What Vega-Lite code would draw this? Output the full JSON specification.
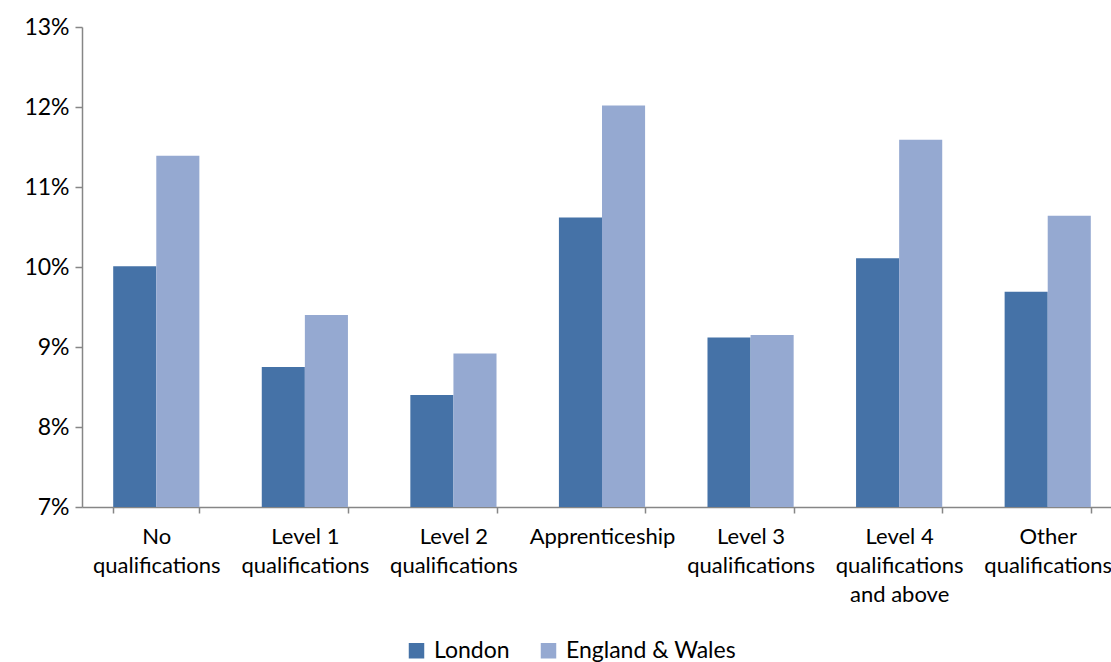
{
  "$schema": "https://vega.github.io/schema/vega-lite/v6.json",
  "width": 1040,
  "height": 480,
  "autosize": {"type": "none"},
  "padding": {"left": 82, "top": 27, "right": 0, "bottom": 155},
  "background": "white",
  "data": {
    "values": [
      {"category": "No|qualifications", "area": "London", "rate": 0.1001},
      {"category": "No|qualifications", "area": "England & Wales", "rate": 0.1139},
      {"category": "Level 1|qualifications", "area": "London", "rate": 0.0875},
      {"category": "Level 1|qualifications", "area": "England & Wales", "rate": 0.094},
      {"category": "Level 2|qualifications", "area": "London", "rate": 0.084},
      {"category": "Level 2|qualifications", "area": "England & Wales", "rate": 0.0892},
      {"category": "Apprenticeship", "area": "London", "rate": 0.1062},
      {"category": "Apprenticeship", "area": "England & Wales", "rate": 0.1202},
      {"category": "Level 3|qualifications", "area": "London", "rate": 0.0912},
      {"category": "Level 3|qualifications", "area": "England & Wales", "rate": 0.0915},
      {"category": "Level 4|qualifications|and above", "area": "London", "rate": 0.1011},
      {"category": "Level 4|qualifications|and above", "area": "England & Wales", "rate": 0.1159},
      {"category": "Other|qualifications", "area": "London", "rate": 0.0969},
      {"category": "Other|qualifications", "area": "England & Wales", "rate": 0.1064}
    ]
  },
  "mark": {"type": "bar", "clip": true},
  "encoding": {
    "x": {
      "field": "category",
      "type": "nominal",
      "sort": null,
      "scale": {"paddingInner": 0.42, "paddingOuter": 0.21},
      "axis": {
        "title": null,
        "labelAngle": 0,
        "labelExpr": "split(datum.label, '|')",
        "labelFont": "Lato",
        "labelFontSize": 22,
        "labelLineHeight": 29,
        "labelColor": "#000000",
        "labelPadding": 13,
        "labelBaseline": "top",
        "labelLimit": 0,
        "tickBand": "extent",
        "tickSize": 6,
        "tickColor": "#868686",
        "domainColor": "#868686",
        "domainWidth": 1.5,
        "tickWidth": 1.5,
        "labelOverlap": false
      }
    },
    "xOffset": {"field": "area", "type": "nominal", "sort": ["London", "England & Wales"], "scale": {"paddingInner": 0, "paddingOuter": 0}},
    "y": {
      "field": "rate",
      "type": "quantitative",
      "scale": {"domain": [0.07, 0.13], "zero": false, "nice": false},
      "axis": {
        "title": null,
        "format": ".0%",
        "values": [0.07, 0.08, 0.09, 0.1, 0.11, 0.12, 0.13],
        "grid": false,
        "labelFont": "Lato",
        "labelFontSize": 23,
        "labelColor": "#000000",
        "labelPadding": 6,
        "tickSize": 7,
        "tickColor": "#868686",
        "domainColor": "#868686",
        "domainWidth": 1.5,
        "tickWidth": 1.5
      }
    },
    "color": {
      "field": "area",
      "type": "nominal",
      "sort": ["London", "England & Wales"],
      "scale": {"domain": ["London", "England & Wales"], "range": ["#4572A7", "#95A9D1"]},
      "legend": {
        "title": null,
        "orient": "none",
        "direction": "horizontal",
        "legendX": 323,
        "legendY": 612,
        "symbolType": "square",
        "symbolSize": 240,
        "symbolStrokeWidth": 0,
        "labelFont": "Lato",
        "labelFontSize": 23,
        "labelColor": "#000000",
        "labelOffset": 6,
        "labelLimit": 0,
        "columnPadding": 27
      }
    }
  },
  "config": {"view": {"stroke": null}}
}
